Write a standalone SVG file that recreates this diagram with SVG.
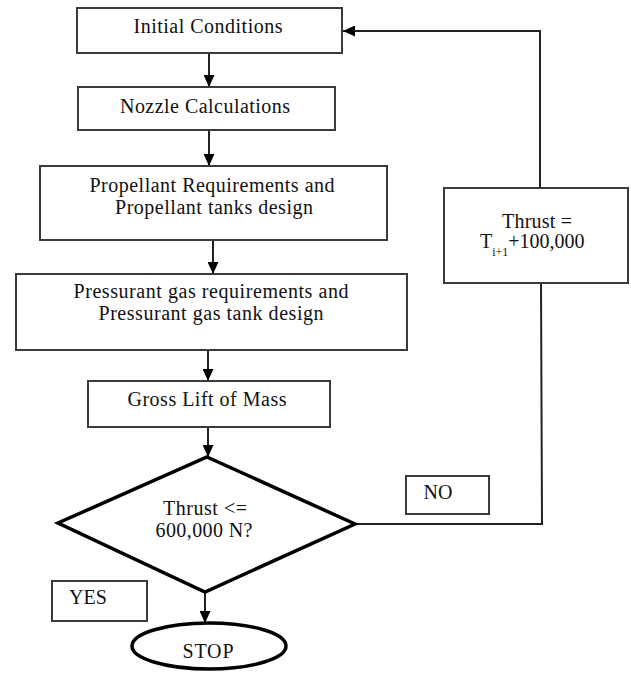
<svg xmlns="http://www.w3.org/2000/svg" width="631" height="676" viewBox="0 0 631 676">
<style>
.box{fill:#fff;stroke:#3a3a3a;stroke-width:2}
.thick{fill:#fff;stroke:#000;stroke-width:3.5}
.conn{fill:none;stroke:#222;stroke-width:2}
text{font-family:"Liberation Serif","Times New Roman",serif;font-size:20px;fill:#111;text-anchor:middle}
.sub{font-size:12px}
</style>
<defs>
<marker id="ah" viewBox="0 0 12 11" refX="12" refY="5.5" markerWidth="12" markerHeight="11" markerUnits="userSpaceOnUse" orient="auto">
<path d="M0,0 L12,5.5 L0,11 Z" fill="#000"/>
</marker>
</defs>
<rect width="631" height="676" fill="#fff"/>
<g id="connectors">
<path class="conn" d="M209,53 V87" marker-end="url(#ah)"/>
<path class="conn" d="M209,130 V166" marker-end="url(#ah)"/>
<path class="conn" d="M213,240 V274" marker-end="url(#ah)"/>
<path class="conn" d="M208,350 V381" marker-end="url(#ah)"/>
<path class="conn" d="M208,427 V457" marker-end="url(#ah)"/>
<path class="conn" d="M205,592 V623" marker-end="url(#ah)"/>
<path class="conn" d="M355,524 H542 L541,283"/>
<path class="conn" d="M540,188 V31 H343" marker-end="url(#ah)"/>
</g>
<g id="n1"><rect class="box" x="77" y="8" width="265" height="45"/><text x="208" y="33" textLength="149" lengthAdjust="spacing">Initial Conditions</text></g>
<g id="n2"><rect class="box" x="78" y="87" width="257" height="43"/><text x="205" y="113" textLength="170" lengthAdjust="spacing">Nozzle Calculations</text></g>
<g id="n3"><rect class="box" x="40" y="166" width="347" height="74"/><text x="212" y="192" textLength="245" lengthAdjust="spacing">Propellant Requirements and</text><text x="214" y="214" textLength="198" lengthAdjust="spacing">Propellant tanks design</text></g>
<g id="n4"><rect class="box" x="16" y="274" width="391" height="76"/><text x="211" y="298" textLength="275" lengthAdjust="spacing">Pressurant gas requirements and</text><text x="211" y="320" textLength="225" lengthAdjust="spacing">Pressurant gas tank design</text></g>
<g id="n5"><rect class="box" x="88" y="381" width="242" height="46"/><text x="207" y="406" textLength="159" lengthAdjust="spacing">Gross Lift of Mass</text></g>
<g id="n6"><polygon class="thick" points="207,457 355,524 205,592 58,523"/><text x="205" y="515" textLength="84" lengthAdjust="spacing">Thrust &lt;=</text><text x="204" y="537" textLength="97" lengthAdjust="spacing">600,000 N?</text></g>
<g id="n7"><ellipse class="thick" cx="209" cy="646" rx="77" ry="23"/><text x="208" y="658" textLength="51" lengthAdjust="spacing">STOP</text></g>
<g id="n8"><rect class="box" x="444" y="188" width="184" height="95"/><text x="537" y="228" textLength="70" lengthAdjust="spacing">Thrust =</text><text x="480" y="248" style="text-anchor:start">T<tspan class="sub" dy="8">i+1</tspan><tspan dy="-8">+100,000</tspan></text></g>
<g id="n9"><rect class="box" x="406" y="476" width="83" height="38"/><text x="438" y="499">NO</text></g>
<g id="n10"><rect class="box" x="52" y="581" width="95" height="40"/><text x="88" y="604">YES</text></g>
</svg>
